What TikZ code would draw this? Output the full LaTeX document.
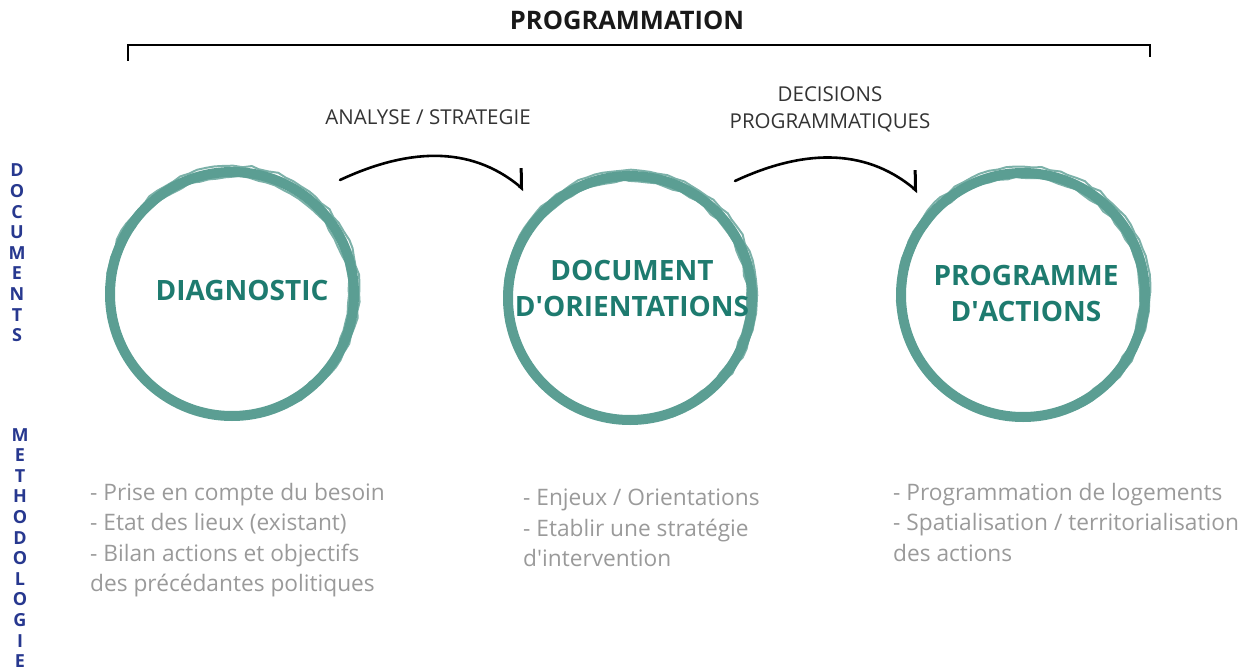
\documentclass[tikz,border=0pt]{standalone}
\usepackage{fontspec}
\setmainfont{Open Sans}
\usetikzlibrary{arrows.meta,decorations.pathmorphing}
\definecolor{ringteal}{HTML}{5B9E93}
\definecolor{textteal}{HTML}{1E7B6F}
\definecolor{docblue}{HTML}{27388F}
\definecolor{notegray}{HTML}{9A9A9A}
\definecolor{labelgray}{HTML}{333333}

\begin{document}
\begin{tikzpicture}[x=1pt,y=-1pt]

\tikzset{ring/.style = {shape=circle,draw=ringteal,line width=10pt,minimum size=244pt,inner sep=0pt}}
\tikzset{stagetext/.style = {text=textteal,font=\bfseries\fontsize{28}{36}\selectfont,align=center,inner sep=0pt}}
\tikzset{sketch/.style = {ringteal,line width=2pt,opacity=0.8,
  decorate,decoration={random steps,segment length=9pt,amplitude=1.2pt}}}
\tikzset{brush/.style = {line width=2.6pt,line cap=round,
  -{Straight Barb[harpoon,length=13pt,width=30pt,line width=3pt]}}}
\tikzset{sidetext/.style = {text=docblue,font=\bfseries\fontsize{18}{20.6}\selectfont,align=center,inner sep=0pt}}
\tikzset{note/.style = {text=notegray,font=\fontsize{22.7}{30.5}\selectfont,align=left,anchor=north west,inner sep=0pt}}
\tikzset{steplabel/.style = {text=labelgray,font=\fontsize{20.5}{27}\selectfont,align=center}}

\useasboundingbox (0,0) rectangle (1249,668);

\node[font=\bfseries\fontsize{25.5}{30}\selectfont,text=black!90] (prog) at (627,20) {PROGRAMMATION};
\coordinate (brl) at (128,61);
\coordinate (brr) at (1150,57);
\draw[line width=2pt] (brl) |- (1150,45) -- (brr);

\node[sidetext] (docs) at (17,253) {D\\O\\C\\U\\M\\E\\N\\T\\S};
\node[sidetext] (metho) at (20,548) {M\\E\\T\\H\\O\\D\\O\\L\\O\\G\\I\\E};

\node[ring] (diag) at (232,294) {};
\node[ring] (orient) at (630,298) {};
\node[ring] (actions) at (1023,295) {};

\foreach \c in {diag,orient,actions} {
  \draw[sketch] (\c) ++(1,-2) circle (126);
  \draw[sketch] (\c) ++(-1,1) circle (118);
}

\node[stagetext] (diagtxt) at (242,290) {DIAGNOSTIC};
\node[stagetext] (orienttxt) at (632,288) {DOCUMENT\\D\textquotesingle ORIENTATIONS};
\node[stagetext] (actionstxt) at (1026,293) {PROGRAMME\\D\textquotesingle ACTIONS};

\node[steplabel] (lbl1) at (428,117) {ANALYSE / STRATEGIE};
\node[steplabel] (lbl2) at (830,109) {DECISIONS\\PROGRAMMATIQUES};

\coordinate (a1s) at (340,180);
\coordinate (a1e) at (524,190);
\coordinate (a2s) at (735,181);
\coordinate (a2e) at (918,192);
\draw[brush] (a1s) to[out=25,in=140] (a1e);
\draw[brush] (a2s) to[out=25,in=140] (a2e);

\node[note] (n1) at (90,483) {- Prise en compte du besoin\\- Etat des lieux (existant)\\- Bilan actions et objectifs\\des précédantes politiques};
\node[note] (n2) at (523,489) {- Enjeux / Orientations\\- Etablir une stratégie\\d\textquotesingle intervention};
\node[note] (n3) at (893,483) {- Programmation de logements\\- Spatialisation / territorialisation\\des actions};

\end{tikzpicture}
\end{document}
